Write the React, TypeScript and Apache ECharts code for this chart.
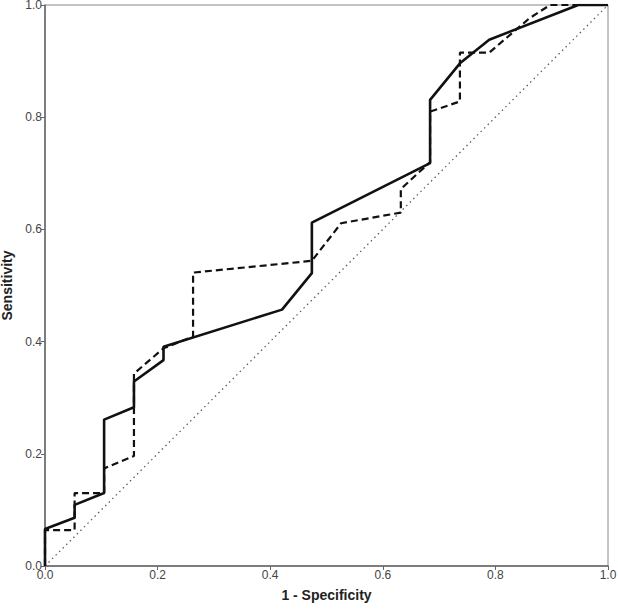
import React, { useEffect, useRef } from "react";
import * as echarts from "echarts";

const solidCurve: [number, number][] = [
  [0, 0], [0, 0.066], [0.0526, 0.086], [0.0526, 0.109], [0.105, 0.13], [0.105, 0.261],
  [0.158, 0.283], [0.158, 0.329], [0.2105, 0.367], [0.2105, 0.391], [0.421, 0.457],
  [0.474, 0.522], [0.474, 0.612], [0.684, 0.718], [0.684, 0.831], [0.737, 0.896],
  [0.789, 0.938], [0.947, 1.0], [1, 1],
];

const dashedCurve: [number, number][] = [
  [0, 0], [0, 0.064], [0.0526, 0.064], [0.0526, 0.13], [0.105, 0.13], [0.105, 0.174],
  [0.158, 0.196], [0.158, 0.343], [0.2105, 0.388], [0.263, 0.409], [0.263, 0.523],
  [0.474, 0.544], [0.526, 0.611], [0.632, 0.63], [0.632, 0.672], [0.684, 0.72],
  [0.684, 0.81], [0.737, 0.828], [0.737, 0.915], [0.789, 0.915], [0.86, 0.976],
  [0.897, 1.0], [1, 1],
];

const referenceLine: [number, number][] = [[0, 0], [1, 1]];

const xTitle = "1 - Specificity";
const yTitle = "Sensitivity";

export default function App() {
  const ref = useRef<HTMLDivElement>(null);
  useEffect(() => {
    if (!ref.current) return;
    const chart = echarts.init(ref.current, null, { renderer: "svg" });
    const axisCommon = {
      type: "value" as const,
      min: 0,
      max: 1,
      interval: 0.2,
      nameLocation: "middle" as const,
      nameTextStyle: { fontFamily: "Liberation Sans, Arial, sans-serif", fontWeight: "bold" as const, fontSize: 14, color: "#222" },
      axisLine: { show: true, lineStyle: { color: "#666", width: 1.5 } },
      axisTick: { show: true, length: 4, inside: false, lineStyle: { color: "#666" } },
      axisLabel: {
        formatter: (v: number) => v.toFixed(1),
        fontFamily: "Liberation Sans, Arial, sans-serif",
        fontSize: 12,
        color: "#444",
        margin: 3,
      },
      splitLine: { show: false },
    };
    chart.setOption({
      animation: false,
      backgroundColor: "#fff",
      grid: {
        left: 45, right: 10, top: 5, bottom: 47,
        outerBoundsMode: "none",
        containLabel: false,
        show: true, borderColor: "#888", borderWidth: 1, backgroundColor: "transparent",
      },
      xAxis: { ...axisCommon, name: xTitle, nameGap: 22 },
      yAxis: { ...axisCommon, name: yTitle, nameGap: 25, nameRotate: 90 },
      series: [
        {
          type: "line",
          data: referenceLine,
          symbol: "none",
          lineStyle: { color: "#555", width: 1.2, type: [1.5, 3.5] },
          z: 1,
        },
        {
          type: "line",
          data: dashedCurve,
          symbol: "none",
          lineStyle: { color: "#111", width: 2.2, type: [7, 4] },
          z: 2,
        },
        {
          type: "line",
          data: solidCurve,
          symbol: "none",
          lineStyle: { color: "#111", width: 2.6 },
          z: 3,
        },
      ],
    });
    return () => chart.dispose();
  }, []);
  return <div ref={ref} style={{ width: 618, height: 613, position: "absolute", left: 0, top: 0 }} />;
}
